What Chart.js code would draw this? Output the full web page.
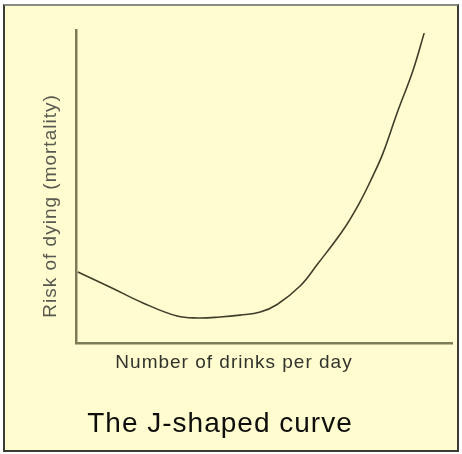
<!DOCTYPE html>
<html>
<head>
<meta charset="utf-8">
<title>The J-shaped curve</title>
<script src="https://cdn.jsdelivr.net/npm/chart.js@4/dist/chart.umd.min.js"></script>
<style>
    html, body { margin: 0; padding: 0; background: #ffffff; }
    #frame {
        position: absolute;
        left: 3px; top: 4px;
        width: 452px; height: 444px;
        border: 2px solid #3c3c36;
        border-top-color: #8c8c86;
        background: #fffdcf;
    }
    #chart { display: block; }
</style>
</head>
<body>
<div id="frame"><canvas id="chart" width="452" height="444"></canvas></div>
<script>
// curve (both axes are unitless, 0-100)
const drinks = [0.5, 9, 17.8, 26.9, 32.4, 38.3, 43.6, 49, 53.5, 59.6, 64.1, 71, 75.5, 79, 81.6, 85.4, 89.6, 92.6];
const risk   = [22.7, 17.9, 12.8, 8.6, 8, 8.3, 8.9, 9.9, 12.3, 18.2, 25, 36, 45, 53.5, 60.5, 73.5, 87, 99];

const yLabel = 'Risk of dying (mortality)';
const xLabel = 'Number of drinks per day';
const chartTitle = 'The J-shaped curve';

const AXIS_COLOR = '#7c7b58';

// the texts are drawn by hand so they can sit off-centre like in the picture
const textPlugin = {
    id: 'jTexts',
    afterDraw(chart) {
        const { ctx, chartArea } = chart;
        ctx.save();
        ctx.letterSpacing = '1px';
        ctx.textAlign = 'center';
        ctx.textBaseline = 'alphabetic';

        // y label, rotated
        ctx.save();
        ctx.translate(chartArea.left - 20, chartArea.top + 176);
        ctx.rotate(-Math.PI / 2);
        ctx.fillStyle = '#585850';
        ctx.font = '19px "Liberation Sans", Arial, sans-serif';
        ctx.fillText(yLabel, 0, 0);
        ctx.restore();

        // x label
        ctx.fillStyle = '#33332e';
        ctx.font = '19px "Liberation Sans", Arial, sans-serif';
        ctx.fillText(xLabel, chartArea.left + 158, chartArea.bottom + 25);

        // title
        ctx.fillStyle = '#0e0e0c';
        ctx.font = '28px "Liberation Sans", Arial, sans-serif';
        ctx.fillText(chartTitle, chartArea.left + 144, chartArea.bottom + 89);
        ctx.restore();
    }
};

new Chart(document.getElementById('chart'), {
    type: 'line',
    data: {
        datasets: [{
            data: drinks.map((d, i) => ({ x: d, y: risk[i] })),
            borderColor: '#3f3e2c',
            borderWidth: 1.6,
            pointRadius: 0,
            fill: false,
            tension: 0.4
        }]
    },
    options: {
        responsive: false,
        animation: false,
        layout: { padding: { left: 71, right: 5, top: 24, bottom: 107 } },
        plugins: {
            legend: { display: false },
            tooltip: { enabled: false },
            title: { display: false }
        },
        scales: {
            x: {
                type: 'linear',
                min: 0,
                max: 100,
                ticks: { display: false },
                grid: { display: false, drawTicks: false },
                border: { display: true, color: AXIS_COLOR, width: 2.5 }
            },
            y: {
                min: 0,
                max: 100,
                ticks: { display: false },
                grid: { display: false, drawTicks: false },
                border: { display: true, color: AXIS_COLOR, width: 2.5 }
            }
        }
    },
    plugins: [textPlugin]
});
</script>
</body>
</html>
